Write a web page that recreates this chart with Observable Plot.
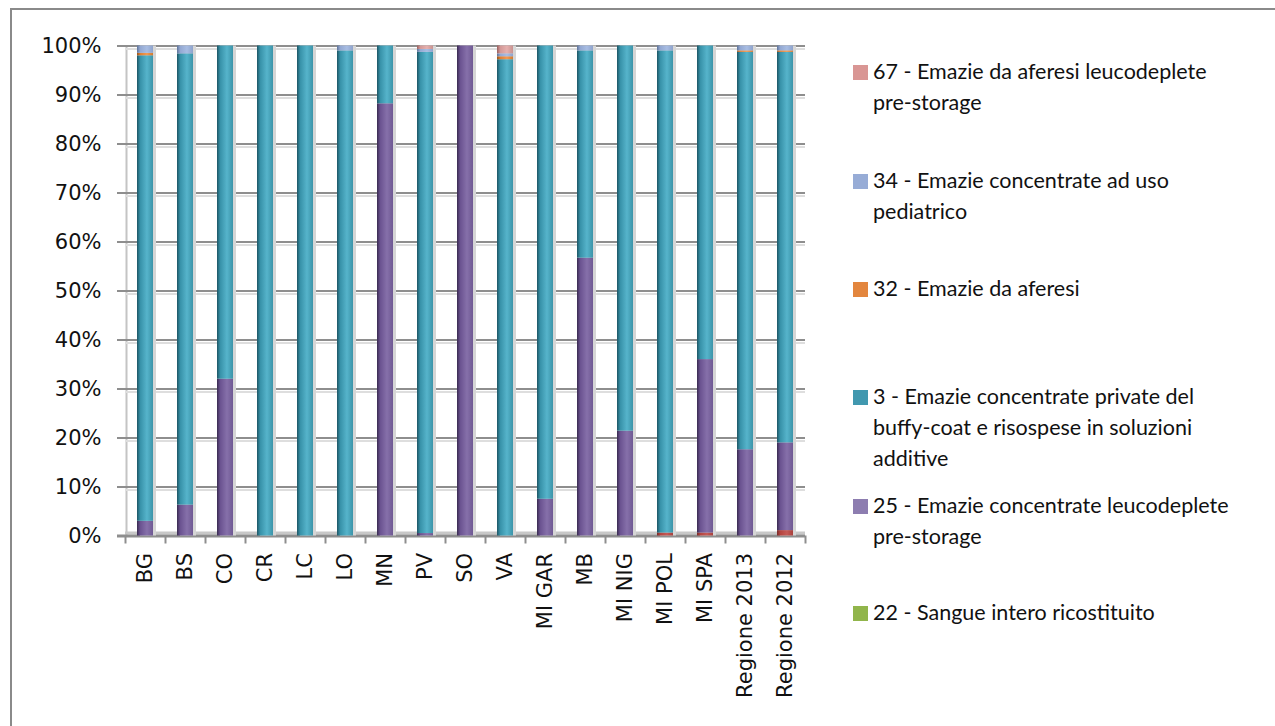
<!DOCTYPE html>
<html>
<head>
<meta charset="utf-8">
<script src="https://cdn.jsdelivr.net/npm/d3@7"></script>
<script src="https://cdn.jsdelivr.net/npm/@observablehq/plot@0.6"></script>
<style>
  html, body { margin: 0; padding: 0; background: #fff; }
  #wrap { position: relative; width: 1275px; height: 726px; overflow: hidden; }
  #border { position: absolute; left: 10px; top: 8px; width: 1300px; height: 800px; border: 2px solid #8a8a8a; box-sizing: border-box; }
  #chart { position: absolute; left: 0; top: 0; }
  #legend { position: absolute; left: 853px; top: 0; font-family: Lato, "Open Sans", sans-serif; font-size: 21.5px; color: #111; }
  .item { position: absolute; left: 0; white-space: nowrap; line-height: 31px; }
  .sw { position: absolute; left: 0; top: 9px; width: 15px; height: 15px; }
  .txt { position: absolute; left: 20px; top: 0; }
</style>
</head>
<body>
<div id="wrap">
  <div id="border"></div>
  <div id="chart"></div>
  <div id="legend"></div>
</div>
<script>
// ---- data ----
const categories = ["BG","BS","CO","CR","LC","LO","MN","PV","SO","VA","MI GAR","MB","MI NIG","MI POL","MI SPA","Regione 2013","Regione 2012"];
// series, bottom to top of each stack
const seriesNames = [
  "altro",
  "22 - Sangue intero ricostituito",
  "25 - Emazie concentrate leucodeplete pre-storage",
  "3 - Emazie concentrate private del buffy-coat e risospese in soluzioni additive",
  "32 - Emazie da aferesi",
  "34 - Emazie concentrate ad uso pediatrico",
  "67 - Emazie da aferesi leucodeplete pre-storage"
];
const sAltro = [0,0,0,0,0,0,0,0,0,0,0,0,0,0.6,0.6,0,1.1];
const s22    = [0,0,0,0,0,0,0,0,0,0,0,0,0,0,0,0,0];
const s25    = [3,6.3,32,0,0,0,88.2,0.5,100,0,7.5,56.7,21.4,0,35.4,17.6,17.9];
const s3     = [95,92.1,68,100,100,99,11.8,98.2,0,97.2,92.5,42.3,78.6,98.4,64,81.1,79.7];
const s32    = [0.5,0,0,0,0,0,0,0,0,0.6,0,0,0,0,0,0.3,0.3];
const s34    = [1.5,1.6,0,0,0,1,0,0.6,0,0.6,0,1,0,1,0,1,1];
const s67    = [0,0,0,0,0,0,0,0.7,0,1.6,0,0,0,0,0,0,0];
const seriesValues = [sAltro, s22, s25, s3, s32, s34, s67];
const yTicks = [0,10,20,30,40,50,60,70,80,90,100];
// legend order (top to bottom) and labels as shown
const legendItems = [
  {s: 6, lines: ["67 - Emazie da aferesi leucodeplete", "pre-storage"]},
  {s: 5, lines: ["34 - Emazie concentrate ad uso", "pediatrico"]},
  {s: 4, lines: ["32 - Emazie da aferesi"]},
  {s: 3, lines: ["3 - Emazie concentrate private del", "buffy-coat e risospese in soluzioni", "additive"]},
  {s: 2, lines: ["25 - Emazie concentrate leucodeplete", "pre-storage"]},
  {s: 1, lines: ["22 - Sangue intero ricostituito"]}
];

// ---- styles ----
const gradIds = ["g-red","g-green","g-purple","g-teal","g-orange","g-lblue","g-pink"];
const gradStops = [
  ["#7a2b29","#b4443f","#c65a56","#a8403c"],
  ["#5d7a2e","#89a84a","#9bbb59","#7f9c44"],
  ["#392a50","#6a5290","#8670aa","#6f5993"],
  ["#1d5564","#3791a8","#56b4cb","#3c94a9"],
  ["#9b5419","#de7f32","#f39a52","#d07a30"],
  ["#5f7399","#93a8d2","#a8bde3","#8ea3cc"],
  ["#9a5f5e","#d39896","#e6b0ae","#c89290"]
];
const legendColors = ["#c0504d","#91b54b","#8d7db0","#4198af","#e3863e","#97acd6","#d99694"];

const table = [];
seriesNames.forEach((name, si) => {
  categories.forEach((c, ci) => table.push({cat: c, series: name, value: seriesValues[si][ci]}));
});

const chart = Plot.plot({
  width: 830,
  height: 726,
  marginLeft: 125,
  marginRight: 25,
  marginTop: 45.5,
  marginBottom: 190.5,
  style: {fontFamily: "DejaVu Sans, sans-serif", fontSize: "21px", color: "#111", background: "transparent"},
  x: {domain: categories, paddingInner: 0.6, paddingOuter: 0.3, axis: null, label: null},
  y: {domain: [0, 100], axis: null, label: null},
  color: {domain: seriesNames, range: gradIds.map(id => `url(#${id})`)},
  marks: [
    // back wall left edge
    Plot.ruleX([categories[0]], {x: d => d, dx: -19, stroke: "#c4c4c4", strokeWidth: 2}),
    // gridlines
    Plot.ruleY(yTicks.filter(t => t > 0), {y: d => d, dy: 3, stroke: "#dedede", strokeWidth: 2}),
    Plot.ruleY(yTicks.filter(t => t > 0), {y: d => d, stroke: "#8e8e8e", strokeWidth: 2}),
    // floor
    Plot.ruleY([0], {y: d => d, stroke: "#c8c8c8", strokeWidth: 3, dy: -3}),
    Plot.ruleY([0], {y: d => d, stroke: "#8e8e8e", strokeWidth: 3, insetLeft: -8}),
    // bar depth shadow
    Plot.barY(categories, {x: d => d, y: 100, dx: 3, fill: "#d6d6d6"}),
    // stacked bars
    Plot.barY(table, Plot.stackY({x: "cat", y: "value", fill: "series", order: null})),
    // x boundary ticks
    Plot.ruleX(categories, {x: d => d, dx: -20, y1: 0, y2: 0, insetBottom: -8, stroke: "#8e8e8e", strokeWidth: 2}),
    Plot.ruleX([categories[categories.length - 1]], {x: d => d, dx: 20, y1: 0, y2: 0, insetBottom: -8, stroke: "#8e8e8e", strokeWidth: 2}),
    // axes
    Plot.axisY(yTicks, {tickSize: 8, tickPadding: 16, tickFormat: d => d + "%", stroke: "#8e8e8e", strokeWidth: 2, label: null}),
    Plot.axisX({tickSize: 0, tickPadding: 17, tickRotate: -90, label: null})
  ]
});

// gradients for cylinder look
const svg = d3.select(chart);
const defs = svg.insert("defs", ":first-child");
gradIds.forEach((id, i) => {
  const g = defs.append("linearGradient").attr("id", id).attr("x1", "0").attr("x2", "1").attr("y1", "0").attr("y2", "0");
  const st = gradStops[i];
  [[0, st[0]], [0.2, st[1]], [0.62, st[2]], [1, st[3]]].forEach(([o, c]) =>
    g.append("stop").attr("offset", o).attr("stop-color", c));
});
document.getElementById("chart").appendChild(chart);

// legend
const legendTops = [56, 165, 273, 381, 490, 597];
const leg = document.getElementById("legend");
legendItems.forEach((it, k) => {
  const div = document.createElement("div");
  div.className = "item";
  div.style.top = legendTops[k] + "px";
  const sw = document.createElement("div");
  sw.className = "sw";
  sw.style.background = legendColors[it.s];
  const tx = document.createElement("div");
  tx.className = "txt";
  tx.innerHTML = it.lines.join("<br>");
  div.appendChild(sw); div.appendChild(tx);
  leg.appendChild(div);
});
</script>
</body>
</html>
